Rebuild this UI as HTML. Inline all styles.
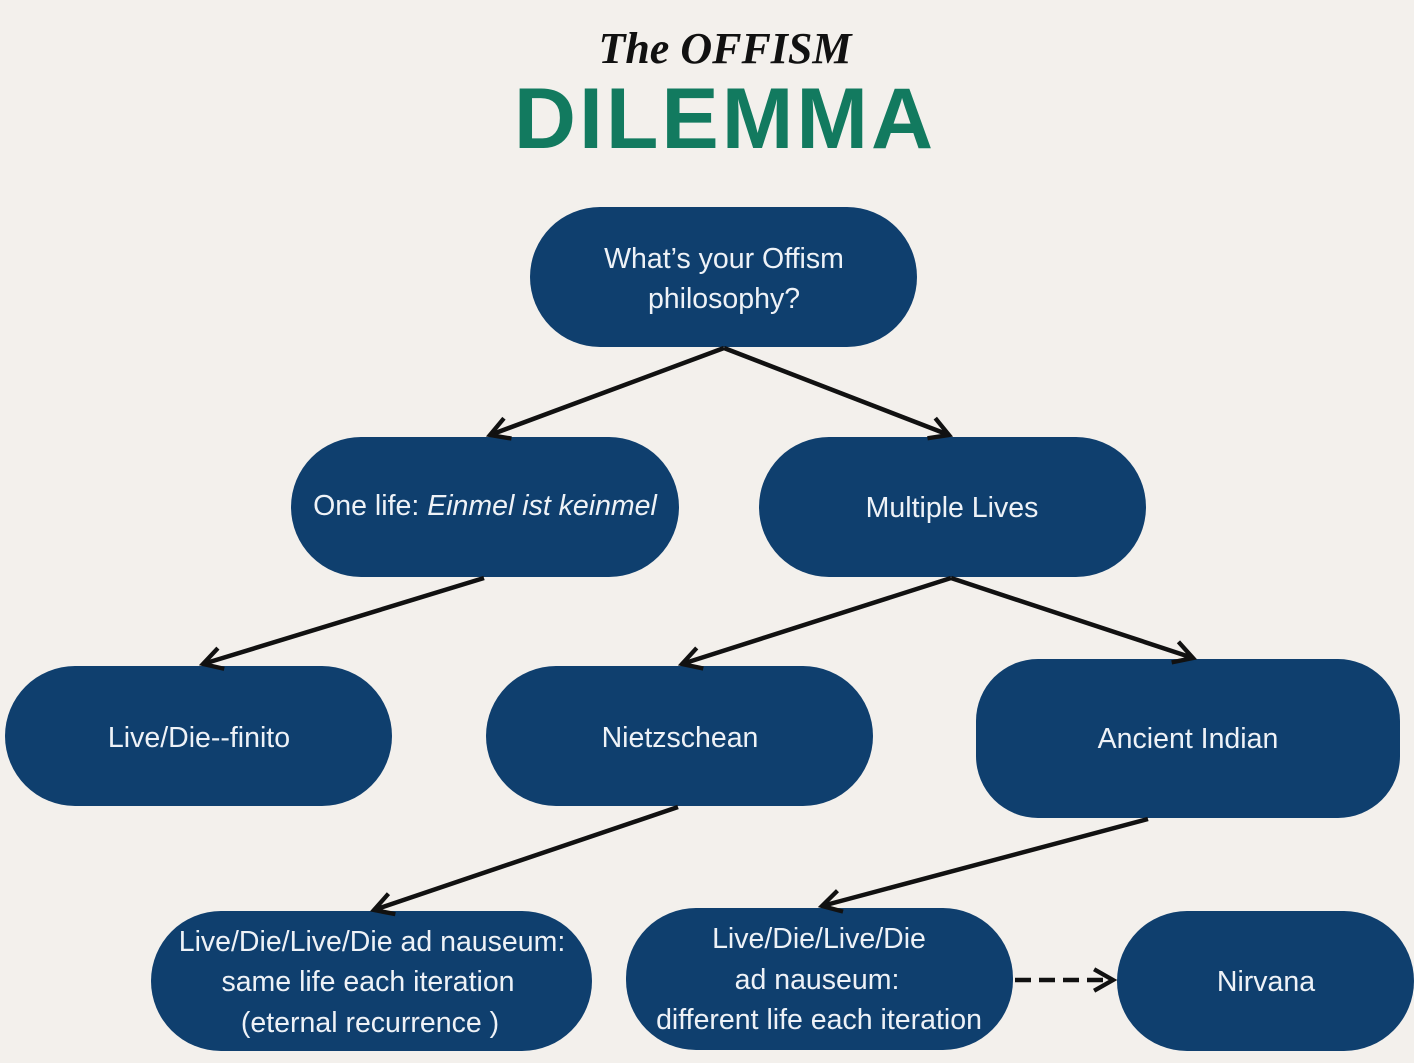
<!DOCTYPE html>
<html><head><meta charset="utf-8"><style>
html,body{margin:0;padding:0;background:#f3f0ec;}
svg{display:block}
text{font-family:"Liberation Sans",sans-serif;fill:#eef2f7;font-size:28.5px;text-anchor:middle}
</style></head><body>
<svg width="1414" height="1063" viewBox="0 0 1414 1063">
<rect width="1414" height="1063" fill="#f3f0ec"/>
<text x="725" y="63" style="font-family:'Liberation Serif',serif;font-style:italic;font-weight:bold;font-size:44px;fill:#111">The OFFISM</text>
<text x="725" y="148" style="font-weight:bold;font-size:86px;fill:#127a5f;letter-spacing:3px">DILEMMA</text>
<defs><marker id="a" viewBox="0 0 10 10" refX="8" refY="5" markerWidth="6" markerHeight="6" orient="auto"><path d="M1,1 L8,5 L1,9" fill="none" stroke="#111" stroke-width="1.6"/></marker></defs>
<g fill="#0f3f6e">
<rect x="530" y="207" width="387" height="140" rx="70"/>
<rect x="291" y="437" width="388" height="140" rx="70"/>
<rect x="759" y="437" width="387" height="140" rx="70"/>
<rect x="5" y="666" width="387" height="140" rx="70"/>
<rect x="486" y="666" width="387" height="140" rx="70"/>
<rect x="976" y="659" width="424" height="159" rx="62"/>
<rect x="151" y="911" width="441" height="140" rx="70"/>
<rect x="626" y="908" width="387" height="142" rx="70"/>
<rect x="1117" y="911" width="297" height="140" rx="70"/>
</g>
<g stroke="#111" stroke-width="4.5" fill="none" marker-end="url(#a)">
<line x1="724" y1="348" x2="490" y2="435"/>
<line x1="724" y1="348" x2="949" y2="435"/>
<line x1="484" y1="578" x2="203" y2="664"/>
<line x1="951" y1="578" x2="682" y2="664"/>
<line x1="951" y1="578" x2="1193" y2="658"/>
<line x1="678" y1="807" x2="374" y2="910"/>
<line x1="1148" y1="819" x2="822" y2="906"/>
<line x1="1015" y1="980" x2="1113" y2="980" stroke-dasharray="16,8"/>
</g>
<text x="724" y="268">What’s your Offism</text>
<text x="724" y="308">philosophy?</text>
<text x="485" y="515">One life: <tspan font-style="italic">Einmel ist keinmel</tspan></text>
<text x="952" y="517">Multiple Lives</text>
<text x="199" y="747">Live/Die--finito</text>
<text x="680" y="747">Nietzschean</text>
<text x="1188" y="748">Ancient Indian</text>
<text x="372" y="951">Live/Die/Live/Die ad nauseum:</text>
<text x="368" y="991">same life each iteration</text>
<text x="370" y="1032">(eternal recurrence )</text>
<text x="819" y="948">Live/Die/Live/Die</text>
<text x="817" y="989">ad nauseum:</text>
<text x="819" y="1029">different life each iteration</text>
<text x="1266" y="991">Nirvana</text>
</svg>
</body></html>
